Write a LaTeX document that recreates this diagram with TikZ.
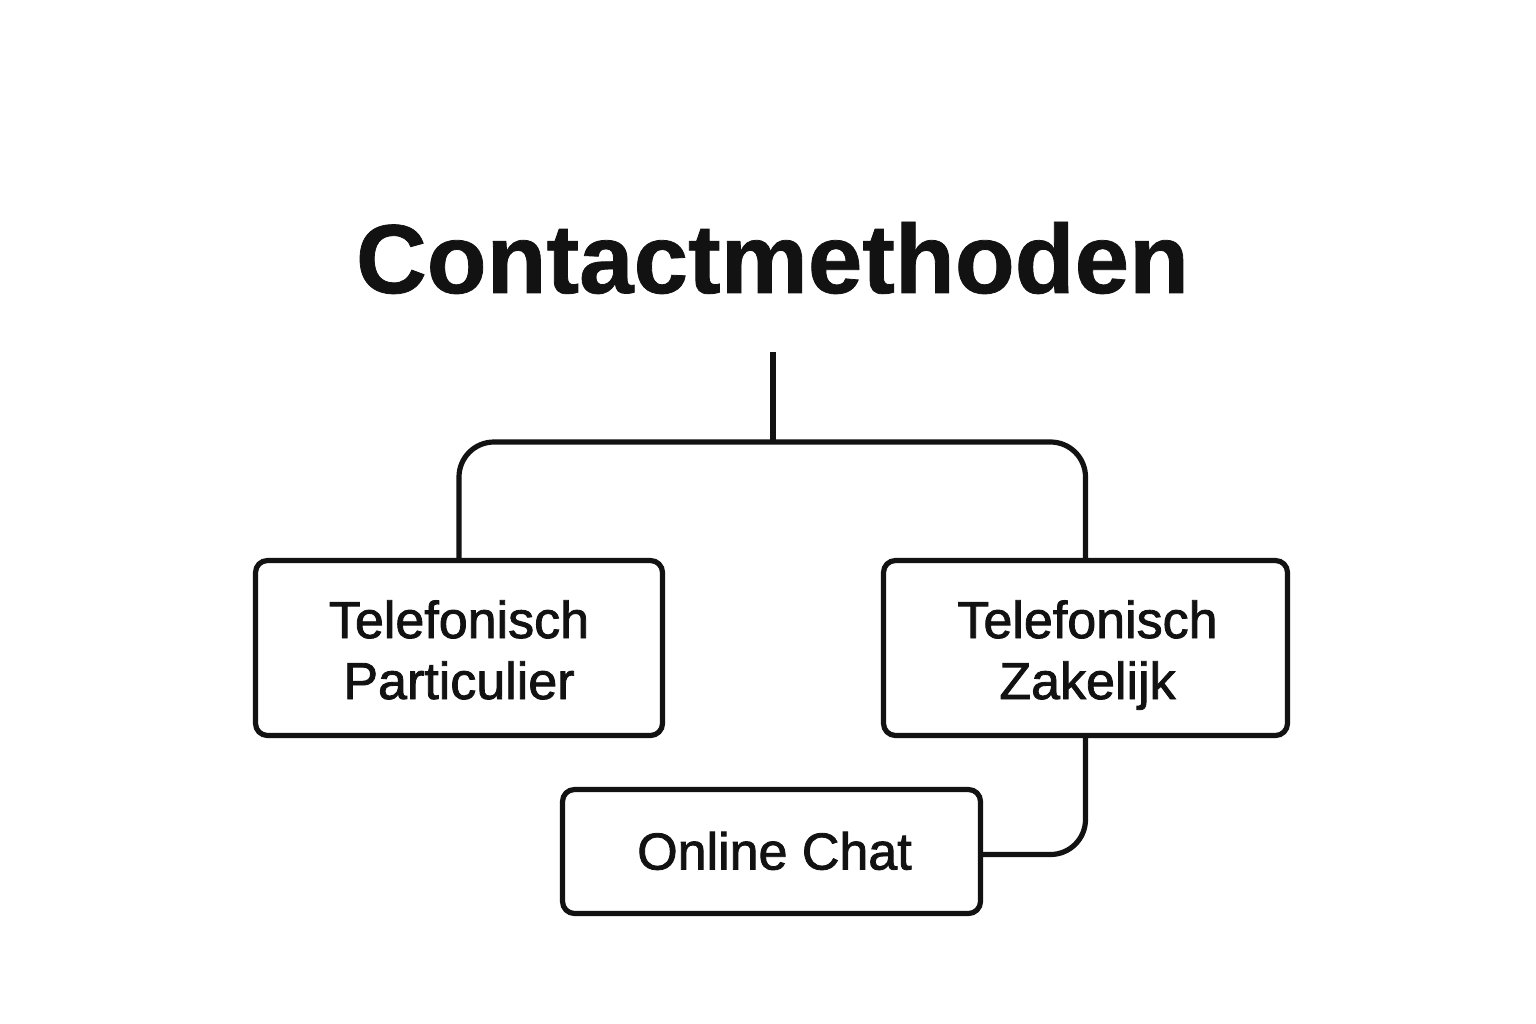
\documentclass[tikz,border=0pt]{standalone}
\usepackage{fontspec}
\setmainfont{Liberation Sans}
\newfontfamily\medfont{Liberation Sans}[FakeBold=1.6]
\newfontfamily\heavyfont{Liberation Sans}[FakeBold=0.8]
\usetikzlibrary{calc}
\begin{document}
\begin{tikzpicture}[x=1pt,y=-1pt,
  line width=5.2pt,
  ink/.style={draw=black!93},
  boxstyle/.style={ink, rounded corners=12pt, inner sep=0pt},
  lbl/.style={anchor=base, inner sep=0pt, font=\medfont\fontsize{52}{60}\selectfont, text=black!93},
  conn/.style={ink, rounded corners=35pt}]
\useasboundingbox (0,0) rectangle (1536,1024);
\fill[white] (0,0) rectangle (1536,1024);
\node[anchor=base, font=\heavyfont\fontsize{98}{110}\selectfont\bfseries, text=black!93] (title) at (772.5,293) {Contactmethoden};
\node[boxstyle, minimum width=407pt, minimum height=175pt] (p) at (459,648) {};
\node[boxstyle, minimum width=404pt, minimum height=175pt] (z) at (1085.5,648) {};
\node[boxstyle, minimum width=418pt, minimum height=124pt] (c) at (771.5,851.5) {};
\node[lbl] (p1) at ($(p.center)+(0,-10)$) {Telefonisch};
\node[lbl] (p2) at ($(p.center)+(0,51)$) {Particulier};
\node[lbl] (z1) at ($(z.center)+(2,-10)$) {Telefonisch};
\node[lbl] (z2) at ($(z.center)+(2,51)$) {Zakelijk};
\node[lbl] (c1) at ($(c.center)+(3,18)$) {Online Chat};
\coordinate (stem) at (773,352);
\coordinate (junction) at (773,442);
\draw[ink] (stem) -- (junction);
\draw[conn] (p.north) |- (junction) -| (z.north);
\draw[conn] (z.south) |- ($(c.east)+(0,3)$);
\end{tikzpicture}
\end{document}
